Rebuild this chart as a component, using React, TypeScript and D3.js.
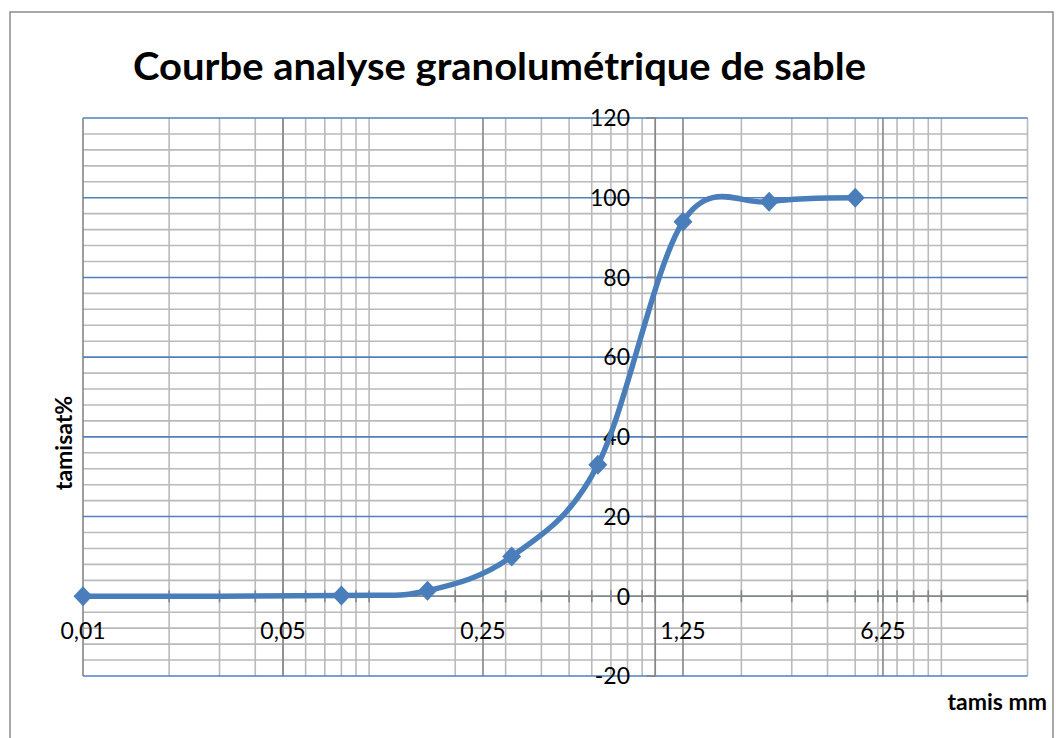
import React from "react";
import * as d3 from "d3";

// sieve openings (mm) and passing percentage
const tamis = [0.01, 0.08, 0.16, 0.315, 0.63, 1.25, 2.5, 5];
const tamisat = [0, 0.2, 1.4, 10, 33, 94, 99, 100];

const xMajor = [0.01, 0.05, 0.25, 1.25, 6.25];
const xLabels = ["0,01", "0,05", "0,25", "1,25", "6,25"];
const yMajor = [-20, 0, 20, 40, 60, 80, 100, 120];
const yLabels = ["-20", "0", "20", "40", "60", "80", "100", "120"];

const W = 1056;
const H = 738;

const App = () => {
  const x = d3.scaleLog().base(5).domain([0.01, 20]).range([83, 1027.5]);
  const y = d3.scaleLinear().domain([-20, 120]).range([676, 118]);

  // decimal minor grid lines 0.02..20
  const xMinor: number[] = [];
  [0.01, 0.1, 1, 10].forEach((dec) => {
    d3.range(1, 10).forEach((m) => {
      const v = +(dec * m).toPrecision(3);
      if (v > 0.01 && v <= 20) xMinor.push(v);
    });
  });
  const yMinor = d3.range(-20, 121, 4).filter((v) => v % 20 !== 0);

  const pts = tamis.map((t, i) => [x(t), y(tamisat[i])] as [number, number]);
  const line = d3.line().curve(d3.curveCardinal.tension(0))(pts) || "";

  const x0 = x(1); // y axis crosses at 1
  const y0 = y(0);

  return (
    <svg
      width={W}
      height={H}
      style={{ position: "absolute", left: 0, top: 0, background: "#fff" }}
      fontFamily="Lato, 'Open Sans', sans-serif"
    >
      <rect x={10} y={12} width={1043} height={740} fill="#fff" stroke="#8c8c8c" strokeWidth={1.5} />

      <text
        x={133}
        y={80}
        fontSize={38}
        fontWeight="bold"
        textLength={733}
        lengthAdjust="spacingAndGlyphs"
      >
        Courbe analyse granolumétrique de sable
      </text>

      {/* minor grid */}
      {yMinor.map((v) => (
        <line key={"ym" + v} x1={83} x2={1027.5} y1={y(v)} y2={y(v)} stroke="#bababa" strokeWidth={1.6} />
      ))}
      {xMinor.map((v) => (
        <line key={"xm" + v} x1={x(v)} x2={x(v)} y1={118} y2={676} stroke="#bababa" strokeWidth={1.6} />
      ))}
      {/* major grid */}
      {xMajor.map((v) => (
        <line key={"xM" + v} x1={x(v)} x2={x(v)} y1={118} y2={676} stroke="#868686" strokeWidth={1.6} />
      ))}
      {yMajor.map((v) => (
        <line key={"yM" + v} x1={83} x2={1027.5} y1={y(v)} y2={y(v)} stroke="#4f81bd" strokeWidth={1.6} />
      ))}

      {/* x axis at 0 */}
      <line x1={83} x2={1027.5} y1={y0} y2={y0} stroke="#868686" strokeWidth={1.6} />
      {[...xMinor, ...xMajor].map((v) => (
        <line key={"xt" + v} x1={x(v)} x2={x(v)} y1={y0 - 6} y2={y0 + 6} stroke="#868686" strokeWidth={1.6} />
      ))}
      {/* y axis at 1 */}
      <line x1={x0} x2={x0} y1={118} y2={676} stroke="#868686" strokeWidth={1.6} />
      {yMajor.map((v) => (
        <line key={"yt" + v} x1={x0 - 9} x2={x0} y1={y(v)} y2={y(v)} stroke="#868686" strokeWidth={1.6} />
      ))}

      {yMajor.map((v, i) => (
        <text key={"yl" + v} x={630} y={y(v)} dy="0.36em" textAnchor="end" fontSize={23} fill="#000">
          {yLabels[i]}
        </text>
      ))}
      {xMajor.map((v, i) => (
        <text key={"xl" + v} x={x(v)} y={639} textAnchor="middle" fontSize={23} fill="#000">
          {xLabels[i]}
        </text>
      ))}

      <path d={line} fill="none" stroke="#4a7ebb" strokeWidth={5.5} strokeLinejoin="round" />
      {pts.map(([px, py], i) => (
        <path
          key={"m" + i}
          d={`M${px},${py - 10}L${px + 9.5},${py}L${px},${py + 10}L${px - 9.5},${py}Z`}
          fill="#4a7ebb"
        />
      ))}

      <text
        transform={`translate(72,443) rotate(-90)`}
        textAnchor="middle"
        fontSize={23}
        fontWeight="bold"
      >
        tamisat%
      </text>
      <text x={1047} y={710} textAnchor="end" fontSize={23} fontWeight="bold">
        tamis mm
      </text>
    </svg>
  );
};

export default App;
